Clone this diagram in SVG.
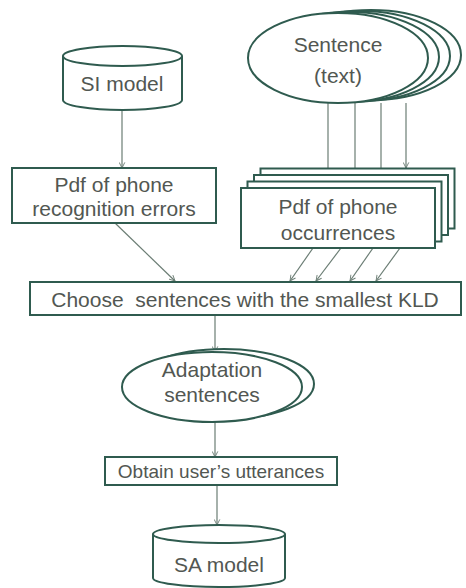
<svg xmlns="http://www.w3.org/2000/svg" width="466" height="588" viewBox="0 0 466 588">
<defs>
<marker id="ah" viewBox="0 0 10 10" refX="9" refY="5" markerWidth="7" markerHeight="7" orient="auto" markerUnits="userSpaceOnUse">
<path d="M1,1 L9,5 L1,9" fill="none" stroke="#6b7d74" stroke-width="1.3"/>
</marker>
<style>
.s{fill:#fff;stroke:#2f5b4f;stroke-width:2}
.t{font-family:"Liberation Sans",Arial,sans-serif;font-size:21px;fill:#525752;text-anchor:middle}
.c{stroke:#6b7d74;stroke-width:1.2;fill:none;marker-end:url(#ah)}
</style>
</defs>
<rect width="466" height="588" fill="#fff"/>
<g id="connectors">
<line class="c" x1="122" y1="110" x2="122" y2="168"/>
<line class="c" x1="328" y1="103" x2="328" y2="188"/>
<line class="c" x1="355" y1="103" x2="355" y2="181"/>
<line class="c" x1="381" y1="103" x2="381" y2="175"/>
<line class="c" x1="406" y1="103" x2="406" y2="168"/>
<line class="c" x1="115" y1="223" x2="175" y2="281"/>
<line class="c" x1="313" y1="248" x2="290" y2="281"/>
<line class="c" x1="341" y1="248" x2="316" y2="281"/>
<line class="c" x1="373" y1="248" x2="350" y2="281"/>
<line class="c" x1="400" y1="248" x2="376" y2="281"/>
<line class="c" x1="215" y1="315" x2="215" y2="352"/>
<line class="c" x1="215" y1="422" x2="215" y2="457"/>
<line class="c" x1="217" y1="485" x2="217" y2="525"/>
</g>
<g id="si-model">
<path class="s" d="M63,56 L63,100 A59.5,10 0 0 0 182,100 L182,56"/>
<ellipse class="s" cx="122.5" cy="56" rx="59.5" ry="10"/>
<text class="t" x="122" y="91">SI model</text>
</g>
<g id="sentence">
<ellipse class="s" cx="371" cy="55" rx="90" ry="45"/>
<ellipse class="s" cx="360" cy="56" rx="90" ry="45"/>
<ellipse class="s" cx="349" cy="57" rx="90" ry="45"/>
<ellipse class="s" cx="338" cy="58" rx="90" ry="45"/>
<text class="t" x="338" y="52">Sentence</text>
<text class="t" x="338" y="83">(text)</text>
</g>
<g id="pdf-errors">
<rect class="s" x="12" y="168" width="204" height="55"/>
<text class="t" x="114" y="192">Pdf of phone</text>
<text class="t" x="114" y="216">recognition errors</text>
</g>
<g id="pdf-occurrences">
<rect class="s" x="260.5" y="168.5" width="194" height="60"/>
<rect class="s" x="254" y="175" width="194" height="60"/>
<rect class="s" x="247.5" y="181.5" width="194" height="60"/>
<rect class="s" x="241" y="188" width="194" height="60"/>
<text class="t" x="338" y="214">Pdf of phone</text>
<text class="t" x="338" y="240">occurrences</text>
</g>
<g id="choose">
<rect class="s" x="30" y="282" width="431" height="33"/>
<text class="t" x="245" y="307" xml:space="preserve" style="white-space:pre">Choose  sentences with the smallest KLD</text>
</g>
<g id="adaptation">
<ellipse class="s" cx="224" cy="384" rx="90" ry="35"/>
<ellipse class="s" cx="212" cy="387" rx="90" ry="35"/>
<text class="t" x="212" y="377">Adaptation</text>
<text class="t" x="212" y="402">sentences</text>
</g>
<g id="obtain">
<rect class="s" x="105" y="457" width="232" height="28"/>
<text class="t" x="221" y="478" style="font-size:19px">Obtain user’s utterances</text>
</g>
<g id="sa-model">
<path class="s" d="M153,534 L153,578 A66,9 0 0 0 285,578 L285,534"/>
<ellipse class="s" cx="219" cy="534" rx="66" ry="9"/>
<text class="t" x="219" y="572">SA model</text>
</g>
</svg>
